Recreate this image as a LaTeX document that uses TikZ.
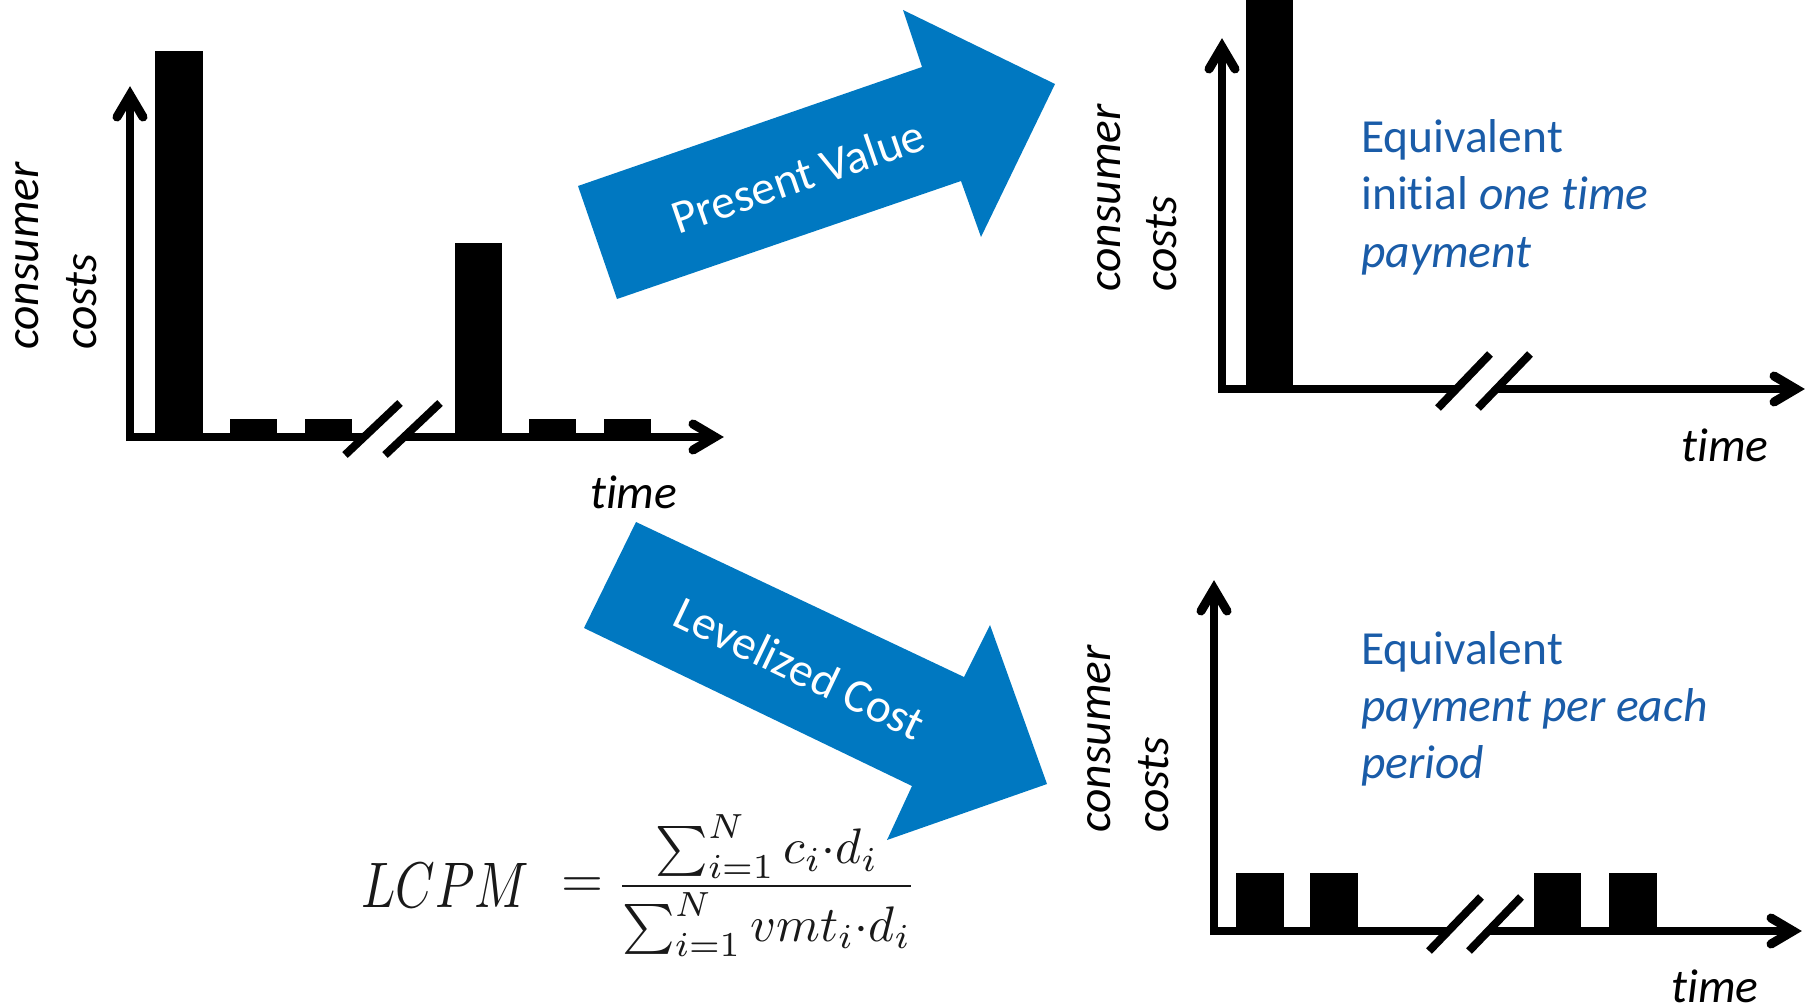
\documentclass[tikz,border=0pt]{standalone}
\usepackage{fontspec}
\setmainfont{Carlito}[Ligatures=NoCommon]
\usepackage{graphicx}
\definecolor{arrblue}{RGB}{0,120,193}
\definecolor{txtblue}{RGB}{26,92,168}
\newcommand\bigfont{\fontsize{47.5}{57}\selectfont}
\begin{document}
\begin{tikzpicture}[x=1pt,y=-1pt,
  axis/.style={line width=8pt},
  tipst/.style={line width=9pt,line cap=round,line join=miter},
  brk/.style={line width=8pt},
  bar/.style={fill=black},
  lbl/.style={font=\bigfont\itshape,anchor=base west,inner sep=0pt},
  vlbl/.style={lbl,rotate=90},
  bluetxt/.style={font=\bigfont,text=txtblue,anchor=base west,inner sep=0pt},
  arrtxt/.style={font=\bigfont,text=white,inner sep=0pt},
  bigarrow/.style={fill=arrblue},
  mathpart/.style={inner sep=0pt,text=black!90}]
\useasboundingbox (0,0) rectangle (1806,1003);

% ---------- chart 1 (top left) ----------
\coordinate (ytip1) at (130,95);
\coordinate (xtip1) at (715,437);
\fill[bar] (155,51) rectangle (203,437);
\fill[bar] (230,419) rectangle (277,437);
\fill[bar] (305,419) rectangle (352,437);
\fill[bar] (455,243) rectangle (502,437);
\fill[bar] (529,419) rectangle (576,437);
\fill[bar] (604,419) rectangle (651,437);
\draw[axis] (130,441) -- (ytip1);
\draw[axis] (126,437) -- (364,437);
\draw[axis] (404,437) -- (xtip1);
\draw[brk] (345,455) -- (400,403);
\draw[brk] (385,455) -- (440,403);
\draw[tipst] (ytip1) ++(-13,22) -- (ytip1) -- ++(13,22);
\draw[tipst] (xtip1) ++(-22,-13) -- (xtip1) -- ++(-22,13);
\node[vlbl] (c1a) at (38,350) {consumer};
\node[vlbl] (c1b) at (96,350) {costs};
\node[lbl] (t1) at (590,508) {time};

% ---------- chart 2 (top right) ----------
\coordinate (ytip2) at (1222,47);
\coordinate (xtip2) at (1796,389);
\fill[bar] (1246,0) rectangle (1293,389);
\draw[axis] (1222,393) -- (ytip2);
\draw[axis] (1218,389) -- (1456,389);
\draw[axis] (1496,389) -- (xtip2);
\draw[brk] (1438,408) -- (1490,354);
\draw[brk] (1478,408) -- (1530,354);
\draw[tipst] (ytip2) ++(-13,22) -- (ytip2) -- ++(13,22);
\draw[tipst] (xtip2) ++(-22,-13) -- (xtip2) -- ++(-22,13);
\node[vlbl] (c2a) at (1120,292) {consumer};
\node[vlbl] (c2b) at (1176,292) {costs};
\node[lbl] (t2) at (1681,461) {time};
\node[bluetxt] (e2a) at (1361,153) {Equivalent};
\node[bluetxt] (e2b) at (1361,210) {initial \textit{one time}};
\node[bluetxt] (e2c) at (1361,267) {\textit{payment}};

% ---------- chart 3 (bottom right) ----------
\coordinate (ytip3) at (1214,589);
\coordinate (xtip3) at (1793,931);
\fill[bar] (1236,873) rectangle (1284,931);
\fill[bar] (1310,873) rectangle (1358,931);
\fill[bar] (1534,873) rectangle (1581,931);
\fill[bar] (1609,873) rectangle (1657,931);
\draw[axis] (1214,935) -- (ytip3);
\draw[axis] (1210,931) -- (1448,931);
\draw[axis] (1488,931) -- (xtip3);
\draw[brk] (1429,951) -- (1481,897);
\draw[brk] (1469,951) -- (1521,897);
\draw[tipst] (ytip3) ++(-13,22) -- (ytip3) -- ++(13,22);
\draw[tipst] (xtip3) ++(-22,-13) -- (xtip3) -- ++(-22,13);
\node[vlbl] (c3a) at (1110,833) {consumer};
\node[vlbl] (c3b) at (1168,833) {costs};
\node[lbl] (t3) at (1671,1002) {time};
\node[bluetxt] (e3a) at (1361,664) {Equivalent};
\node[bluetxt] (e3b) at (1361,721) {\textit{payment per each}};
\node[bluetxt] (e3c) at (1361,778) {\textit{period}};

% ---------- big arrows ----------
\fill[bigarrow] (578,186) -- (922,67) -- (903,10) -- (1055,84) -- (981,237) -- (961,181) -- (617,299) -- cycle;
\node[arrtxt,rotate=19] (pv) at (798,176) {Present Value};
\fill[bigarrow] (636,522) -- (964,677) -- (990,625) -- (1047,784) -- (887,840) -- (912,786) -- (584,628) -- cycle;
\node[arrtxt,rotate=-25.5] (lc) at (800,668) {Levelized Cost};

% ---------- formula ----------
\node[mathpart,anchor=base west] (lhs) at (361,907)
  {\resizebox{168pt}{44pt}{$LCPM$}};
\node[mathpart] (eq) at (582,888) {\resizebox{42pt}{!}{$=$}};
\node[mathpart,anchor=base west] (frac) at (622,898)
  {\resizebox{289pt}{!}{$\nulldelimiterspace=0pt\displaystyle\frac{\sum_{i=1}^{N} c_i{\cdot}d_i}{\sum_{i=1}^{N} vmt_i{\cdot}d_i}$}};
\end{tikzpicture}
\end{document}
